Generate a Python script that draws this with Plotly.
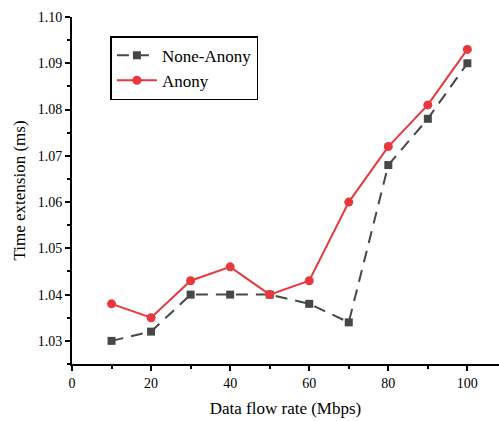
import plotly.graph_objects as go

x_rate = [10, 20, 30, 40, 50, 60, 70, 80, 90, 100]
none_anony = [1.030, 1.032, 1.040, 1.040, 1.040, 1.038, 1.034, 1.068, 1.078, 1.090]
anony = [1.038, 1.035, 1.043, 1.046, 1.040, 1.043, 1.060, 1.072, 1.081, 1.093]

FONT = "Liberation Serif"

fig = go.Figure()
fig.add_trace(go.Scatter(
    x=x_rate, y=none_anony, name="None-Anony", mode="lines+markers",
    line=dict(color="#474747", width=2, dash="12px,8px"),
    marker=dict(symbol="square", size=8, color="#474747"),
))
fig.add_trace(go.Scatter(
    x=x_rate, y=anony, name="Anony", mode="lines+markers",
    line=dict(color="#e8383d", width=2),
    marker=dict(symbol="circle", size=9, color="#e8383d"),
))

fig.update_layout(
    width=499, height=421,
    margin=dict(l=72, r=0, t=17, b=57),
    paper_bgcolor="white", plot_bgcolor="white",
    font=dict(family=FONT, size=14, color="black"),
    showlegend=True,
    legend=dict(
        x=0.09, y=0.945, xanchor="left", yanchor="top",
        bordercolor="black", borderwidth=1.5, bgcolor="white",
        font=dict(family=FONT, size=17, color="black"),
        tracegroupgap=0, itemwidth=40,
    ),
    xaxis=dict(
        range=[0, 108], dtick=20, tick0=0,
        showline=True, linecolor="black", linewidth=2,
        ticks="outside", ticklen=5, tickwidth=1.5, tickcolor="black",
        minor=dict(dtick=10, ticks="outside", ticklen=3, tickwidth=1.5, tickcolor="black"),
        showgrid=False, zeroline=False,
        title=dict(text="Data flow rate (Mbps)", font=dict(family=FONT, size=17), standoff=12),
    ),
    yaxis=dict(
        range=[1.025, 1.10], dtick=0.01, tick0=1.0, tickformat=".2f",
        showline=True, linecolor="black", linewidth=2,
        ticks="outside", ticklen=5, tickwidth=1.5, tickcolor="black",
        minor=dict(dtick=0.005, ticks="outside", ticklen=3, tickwidth=1.5, tickcolor="black"),
        showgrid=False, zeroline=False,
        title=dict(text="Time extension (ms)", font=dict(family=FONT, size=17), standoff=8),
    ),
)

fig.write_html("out.html")
